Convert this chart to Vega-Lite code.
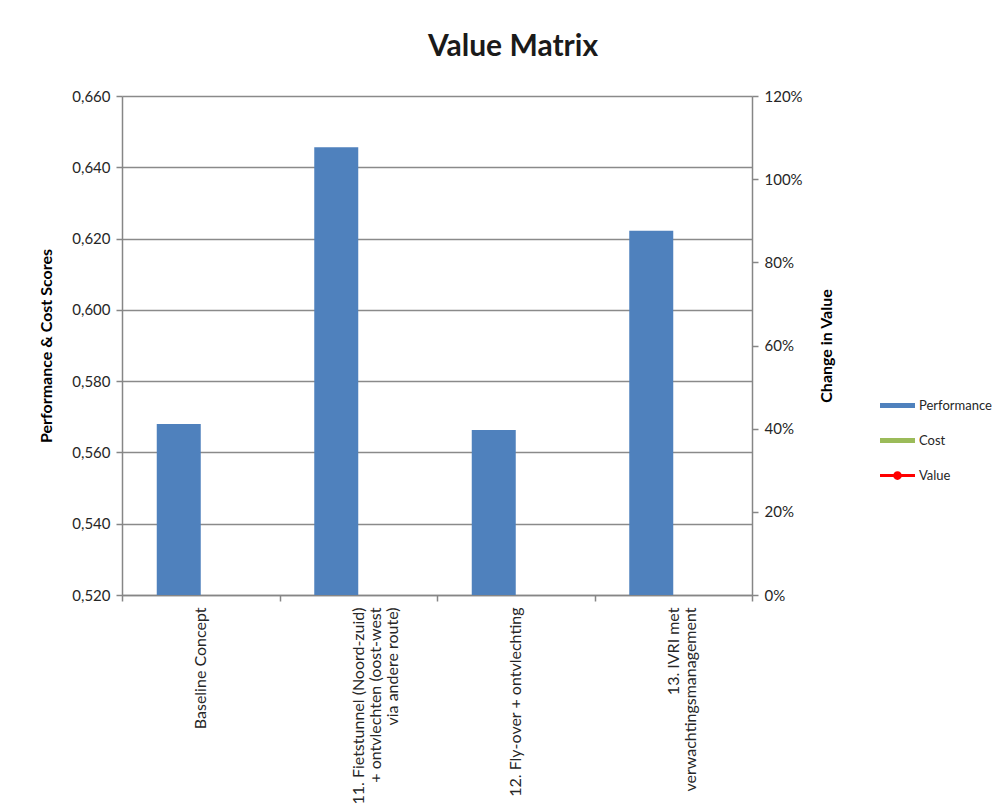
{
  "$schema": "https://vega.github.io/schema/vega-lite/v6.json",
  "width": 630,
  "height": 499,
  "autosize": "none",
  "padding": {"left": 122, "top": 96, "right": 252, "bottom": 211},
  "background": "white",
  "config": {
    "font": "Lato",
    "view": {"stroke": null},
    "axis": {
      "labelFont": "Lato",
      "titleFont": "Lato",
      "labelColor": "#262626",
      "titleColor": "#000000",
      "domainColor": "#868686",
      "tickColor": "#868686",
      "domainWidth": 1.5,
      "tickWidth": 1.5
    }
  },
  "title": {
    "text": "Value Matrix",
    "font": "Lato",
    "fontSize": 30,
    "fontWeight": "bold",
    "color": "#1a1a1a",
    "anchor": "middle",
    "dx": 76,
    "offset": 27
  },
  "data": {
    "values": [
      {"alternative": "Baseline Concept", "series": "Performance", "score": 0.568, "change": null},
      {"alternative": "11. Fietstunnel (Noord-zuid)|+ ontvlechten (oost-west|via andere route)", "series": "Performance", "score": 0.6456, "change": null},
      {"alternative": "12. Fly-over + ontvlechting", "series": "Performance", "score": 0.5663, "change": null},
      {"alternative": "13. IVRI met|verwachtingsmanagement", "series": "Performance", "score": 0.6222, "change": null}
    ]
  },
  "layer": [
    {
      "mark": {"type": "bar", "clip": true},
      "encoding": {
        "x": {
          "field": "alternative",
          "type": "nominal",
          "sort": null,
          "scale": {"paddingInner": 0, "paddingOuter": 0},
          "axis": {
            "title": null,
            "labelAngle": 270,
            "labelAlign": "right",
            "labelBaseline": "middle",
            "labelFontSize": 16,
            "labelLineHeight": 17,
            "labelPadding": 6,
            "labelExpr": "split(datum.label, '|')",
            "tickBand": "extent",
            "tickSize": 6,
            "labelLimit": 400,
            "encode": {
              "labels": {
                "align": {"signal": "length(split(datum.label, '|')) > 1 ? 'center' : 'right'"},
                "dx": {"signal": "length(split(datum.label, '|')) > 1 ? -3.65 * max(length(split(datum.label, '|')[0]), length(split(datum.label, '|')[1] || ''), length(split(datum.label, '|')[2] || '')) : 0"},
                "dy": {"signal": "-(length(split(datum.label, '|')) - 1) * 8.5"}
              }
            }
          }
        },
        "xOffset": {
          "field": "series",
          "type": "nominal",
          "scale": {"domain": ["Performance", "Cost"], "paddingInner": 0, "paddingOuter": 0.79}
        },
        "y": {
          "field": "score",
          "type": "quantitative",
          "scale": {"domain": [0.52, 0.66], "zero": false, "nice": false},
          "axis": {
            "title": "Performance & Cost Scores",
            "titleFontSize": 16,
            "titleFontWeight": "bold",
            "titlePadding": 17,
            "values": [0.52, 0.54, 0.56, 0.58, 0.6, 0.62, 0.64, 0.66],
            "labelExpr": "replace(format(datum.value, '.3f'), '.', ',')",
            "labelFontSize": 15,
            "labelPadding": 6,
            "tickSize": 6,
            "grid": true,
            "gridColor": "#8a8a8a",
            "gridWidth": 1.5
          }
        },
        "color": {
          "field": "series",
          "type": "nominal",
          "scale": {"domain": ["Performance", "Cost", "Value"], "range": ["#4F81BD", "#9BBB59", "#FF0000"]},
          "legend": {
            "title": null,
            "orient": "none",
            "legendX": 758,
            "legendY": 292,
            "symbolType": "M-1,-0.14H1V0.14H-1Z",
            "symbolSize": 1225,
            "symbolStrokeWidth": 0,
            "labelFontSize": 13,
            "labelColor": "#262626",
            "labelOffset": 4,
            "rowPadding": 10,
            "encode": {
              "symbols": {
                "update": {
                  "shape": {"signal": "datum.value === 'Value' ? 'M-1,-0.085H-0.2V0.085H-1Z M0.2,-0.085H1V0.085H0.2Z M-0.25,0 A0.25,0.25 0 1,1 0.25,0 A0.25,0.25 0 1,1 -0.25,0Z' : 'M-1,-0.14H1V0.14H-1Z'"}
                }
              }
            }
          }
        }
      }
    },
    {
      "mark": {"type": "line", "color": "#FF0000"},
      "encoding": {
        "y": {
          "field": "change",
          "type": "quantitative",
          "scale": {"domain": [0, 1.2], "nice": false},
          "axis": {
            "orient": "right",
            "title": "Change in Value",
            "titleAngle": 270,
            "titleFontSize": 16,
            "titleFontWeight": "bold",
            "titlePadding": 32,
            "values": [0, 0.2, 0.4, 0.6, 0.8, 1.0, 1.2],
            "format": ".0%",
            "labelFontSize": 15,
            "labelPadding": 6,
            "tickSize": 6,
            "grid": false
          }
        }
      }
    }
  ],
  "resolve": {"scale": {"y": "independent"}}
}
